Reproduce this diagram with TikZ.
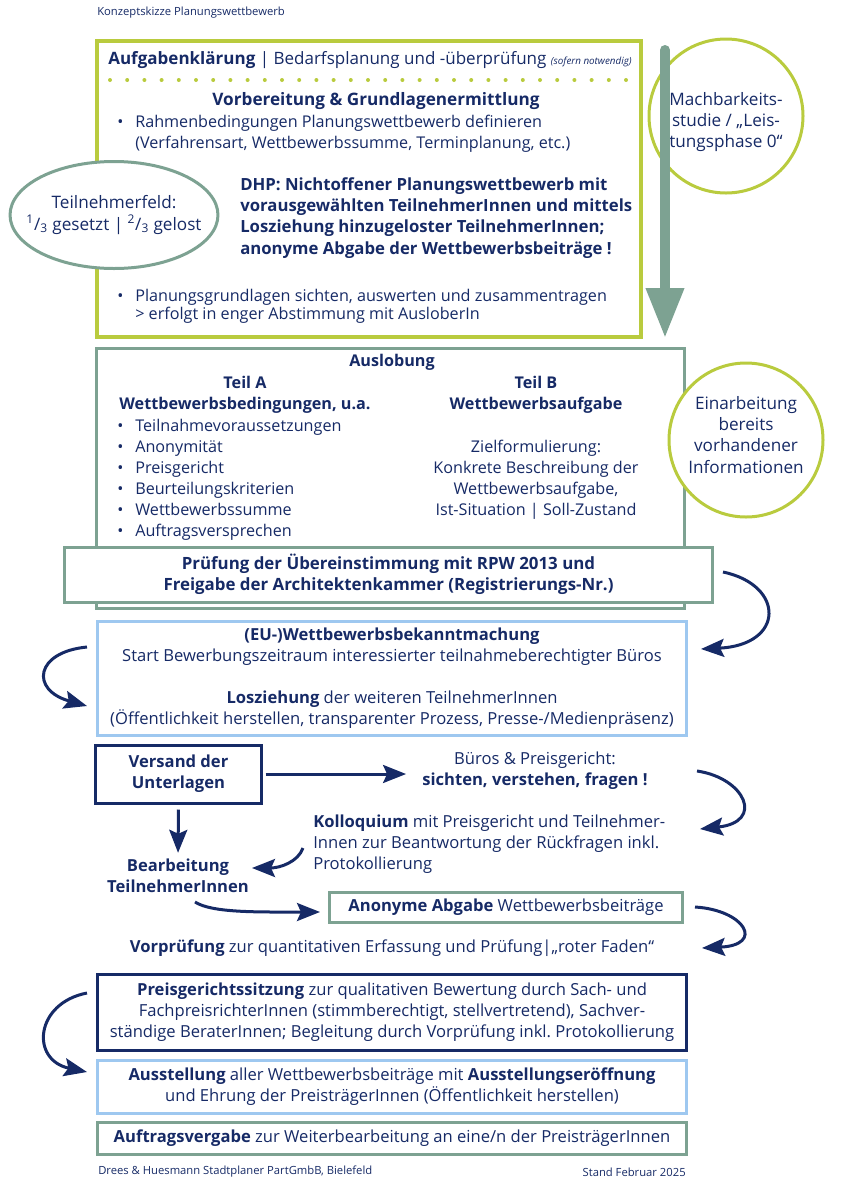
\documentclass[tikz,border=0pt]{standalone}
\usepackage{fontspec}
\setmainfont{Open Sans}
\usetikzlibrary{shapes.geometric,arrows.meta,positioning}

\definecolor{navy}{RGB}{22,42,102}
\definecolor{lime}{RGB}{185,203,62}
\definecolor{sage}{RGB}{125,162,146}
\definecolor{sky}{RGB}{158,200,240}

\newcommand{\normfont}{\fontsize{11.5}{15}\selectfont}
\newcommand{\bignorm}{\fontsize{11.8}{15}\selectfont}
\newcommand{\ringfont}{\fontsize{12.2}{15}\selectfont}
\newcommand{\smallnorm}{\fontsize{8}{10}\selectfont}
\newcommand{\bul}{\makebox[4.5mm][l]{•}}

\begin{document}
\frenchspacing
\begin{tikzpicture}[
                x=0.25mm, y=-0.25mm,
                every node/.style={
                        text=navy,
                        inner sep=0pt,
                        font=\normfont
                    },
                ltxt/.style={align=left, anchor=west},
                low/.style={font=\bignorm},
                lowbf/.style={font=\bignorm\bfseries},
                limebox/.style={draw=lime, line width=0.8mm},
                sagebox/.style={draw=sage, line width=0.75mm, fill=white},
                skybox/.style={draw=sky, line width=0.75mm, fill=white},
                navybox/.style={draw=navy, line width=0.75mm, fill=white},
                ring/.style={circle, draw=lime, line width=0.75mm, fill=white, minimum size=38.5mm},
                flow/.style={draw=navy, line width=0.75mm, -{Stealth[length=5.75mm, width=4.5mm, inset=1mm]}}
            ]
            \useasboundingbox (0,0) rectangle (848,1200);

            \node[font=\smallnorm, anchor=west] (titel) at (97,13) {Konzeptskizze Planungswettbewerb};

            % Vorbereitung
            \node[limebox, minimum width=136mm, minimum height=74mm] (aufgabe) at (369,189) {};
            \node[font=\fontsize{12.1}{16}\selectfont] (kopf) at (370,60) {\textbf{Aufgabenklärung} | Bedarfsplanung und -überprüfung {\fontsize{7}{8}\selectfont\itshape (sofern notwendig)}};
            \draw[lime, line width=1mm, line cap=round, dash pattern=on 0pt off 4.3mm] (110,80) -- (632,80);
            \node[font=\ringfont\bfseries] (vorb) at (376,101) {Vorbereitung \& Grundlagenermittlung};
            \node[ltxt] (rahmen) at (117,134) {\bul Rahmenbedingungen Planungswettbewerb definieren\\ \hspace*{4.5mm}(Verfahrensart, Wettbewerbssumme, Terminplanung, etc.)};
            \node[ltxt, font=\fontsize{11.9}{15}\selectfont\bfseries] (dhp) at (240,218) {DHP: Nichtoffener Planungswettbewerb mit\\ vorausgewählten TeilnehmerInnen und mittels\\ Losziehung hinzugeloster TeilnehmerInnen;\\ anonyme Abgabe der Wettbewerbsbeiträge !};
            \node[ltxt] (grundl) at (117,306) {\bul Planungsgrundlagen sichten, auswerten und zusammentragen\\[-2pt] \hspace*{4.5mm}> erfolgt in enger Abstimmung mit AusloberIn};

            \node[ellipse, draw=sage, line width=0.75mm, fill=white, inner xsep=-3.5mm, minimum width=50.5mm, minimum height=26.75mm, align=center, font=\ringfont] (feld) at (114,215) {Teilnehmerfeld:\\ \textsuperscript{1}/\textsubscript{3} gesetzt | \textsuperscript{2}/\textsubscript{3} gelost};

            \node[ring, fill=none] (mach) at (726,116) {};
            \node[font=\ringfont, align=center] (machtext) at (726,122) {Machbarkeits-\\ studie / „Leis-\\ tungsphase 0“};
            \coordinate (pfeiloben) at (665,50);
            \coordinate (pfeilunten) at (665,338);
            \draw[sage, line width=2.5mm, line cap=round, -{Triangle[width=9mm, length=12.5mm]}] (pfeiloben) -- (pfeilunten);

            % Auslobung
            \node[sagebox, minimum width=146.75mm, minimum height=65mm] (auslobung) at (390.5,478) {};
            \node[font=\normfont\bfseries] (auslob) at (392,362) {Auslobung};
            \node[font=\normfont\bfseries, align=center] (teilA) at (245,395) {Teil A\\ Wettbewerbsbedingungen, u.a.};
            \node[font=\normfont\bfseries, align=center] (teilB) at (536,395) {Teil B\\ Wettbewerbsaufgabe};
            \node[ltxt] (listeA) at (117,480) {\bul Teilnahmevoraussetzungen\\ \bul Anonymität\\ \bul Preisgericht\\ \bul Beurteilungskriterien\\ \bul Wettbewerbssumme\\ \bul Auftragsversprechen};
            \node[align=center] (zielB) at (536,480) {Zielformulierung:\\ Konkrete Beschreibung der\\ Wettbewerbsaufgabe,\\ Ist-Situation | Soll-Zustand};
            \node[ring] (einarb) at (746,440) {};
            \node[font=\ringfont, align=center] (einarbtext) at (746,435) {Einarbeitung\\ bereits\\ vorhandener\\ Informationen};

            \node[sagebox, minimum width=161.75mm, minimum height=13.75mm, align=center, font=\fontsize{12}{15}\selectfont\bfseries] (pruef) at (388.5,574.5) {Prüfung der Übereinstimmung mit RPW 2013 und\\ Freigabe der Architektenkammer (Registrierungs-Nr.)};

            % Bekanntmachung und Bearbeitung
            \node[skybox, low, minimum width=147mm, minimum height=28.5mm, align=center] (eu) at (392,678) {\textbf{(EU-)Wettbewerbsbekanntmachung}\\ Start Bewerbungszeitraum interessierter teilnahmeberechtigter Büros\\[15pt] \textbf{Losziehung} der weiteren TeilnehmerInnen\\ (Öffentlichkeit herstellen, transparenter Prozess, Presse-/Medienpräsenz)};

            \node[navybox, lowbf, minimum width=41.25mm, minimum height=14.5mm, align=center] (versand) at (178.5,774) {Versand der\\ Unterlagen};
            \node[low, align=center] (bueros) at (535,771) {Büros \& Preisgericht:\\ \textbf{sichten, verstehen, fragen !}};
            \node[low, ltxt] (kollo) at (313,844) {\textbf{Kolloquium} mit Preisgericht und Teilnehmer-\\ Innen zur Beantwortung der Rückfragen inkl.\\ Protokollierung};
            \node[lowbf, align=center] (bearb) at (178,876) {Bearbeitung\\ TeilnehmerInnen};
            \node[sagebox, low, minimum width=88mm, minimum height=7.5mm] (abgabe) at (506,907) {\textbf{Anonyme Abgabe} Wettbewerbsbeiträge};
            \node[low] (vorpr) at (392,948) {\textbf{Vorprüfung} zur quantitativen Erfassung und Prüfung|„roter Faden“};

            % Preisgericht bis Auftrag
            \node[navybox, low, minimum width=147mm, minimum height=19mm, align=center] (sitzung) at (392,1012) {\textbf{Preisgerichtssitzung} zur qualitativen Bewertung durch Sach- und\\ FachpreisrichterInnen (stimmberechtigt, stellvertretend), Sachver-\\ständige BeraterInnen; Begleitung durch Vorprüfung inkl. Protokollierung};
            \node[skybox, low, minimum width=147mm, minimum height=13.25mm, align=center] (ausst) at (392,1086.5) {\textbf{Ausstellung} aller Wettbewerbsbeiträge mit \textbf{Ausstellungseröffnung}\\ und Ehrung der PreisträgerInnen (Öffentlichkeit herstellen)};
            \node[sagebox, low, minimum width=147mm, minimum height=8mm] (auftrag) at (392,1138) {\textbf{Auftragsvergabe} zur Weiterbearbeitung an eine/n der PreisträgerInnen};

            \node[font=\smallnorm, anchor=west] (buero) at (98,1172) {Drees \& Huesmann Stadtplaner PartGmbB, Bielefeld};
            \node[font=\smallnorm, anchor=east] (stand) at (686,1172) {Stand Februar 2025};

            % Pfeile
            \coordinate (p1a) at (723,572);
            \coordinate (p1b) at (701,649);
            \coordinate (p2a) at (87,647);
            \coordinate (p2b) at (87,706);
            \coordinate (p3a) at (697,771);
            \coordinate (p3b) at (700,829);
            \coordinate (p4a) at (303,848);
            \coordinate (p4b) at (252,868);
            \coordinate (p5a) at (195,902);
            \coordinate (p5b) at (320,912);
            \coordinate (p6a) at (695,907);
            \coordinate (p6b) at (702,948);
            \coordinate (p7a) at (87,993);
            \coordinate (p7b) at (87,1072);

            \draw[flow] (p1a) .. controls (785,585) and (785,645) .. (p1b);
            \draw[flow] (p2a) .. controls (35,652) and (30,690) .. (p2b);
            \draw[flow, shorten <=0.75mm, shorten >=4mm] (versand.east) -- (versand.east -| bueros.west);
            \draw[flow] (p3a) .. controls (745,778) and (765,822) .. (p3b);
            \draw[flow, shorten <=1.25mm, shorten >=1.5mm] (versand.south) -- (bearb.north);
            \draw[flow] (p4a) .. controls (298,862) and (280,868) .. (p4b);
            \draw[flow] (p5a) .. controls (212,913) and (258,912) .. (p5b);
            \draw[flow] (p6a) .. controls (745,910) and (765,945) .. (p6b);
            \draw[flow] (p7a) .. controls (35,1003) and (30,1060) .. (p7b);

        \end{tikzpicture}
\end{document}
